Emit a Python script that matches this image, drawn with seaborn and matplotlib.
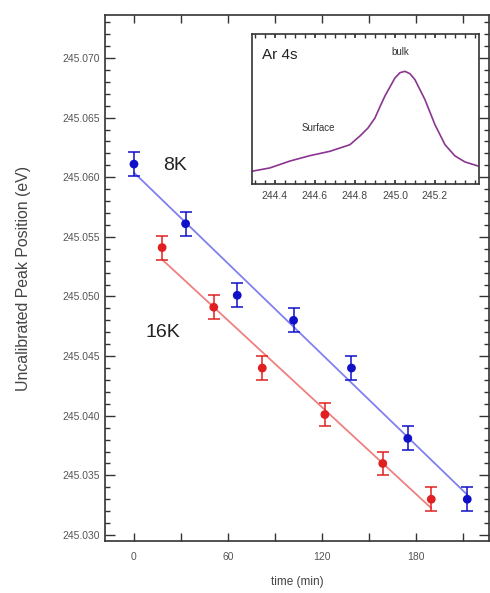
import numpy as np
import pandas as pd
import matplotlib
matplotlib.use("Agg")
import matplotlib.pyplot as plt
from matplotlib.ticker import MultipleLocator, FormatStrFormatter
import seaborn as sns

# ---- data ----
time_8k = [0, 33, 66, 102, 139, 175, 213]
peak_8k = [245.0611, 245.0561, 245.0501, 245.0480, 245.0440, 245.0381, 245.0330]
time_16k = [18, 51, 82, 122, 159, 190]
peak_16k = [245.0541, 245.0491, 245.0440, 245.0401, 245.0360, 245.0330]
err = 0.001

spec_energy = [244.285, 244.375, 244.475, 244.575, 244.675, 244.775, 244.825,
               244.865, 244.90, 244.925, 244.95, 245.00, 245.025, 245.05,
               245.075, 245.10, 245.15, 245.20, 245.25, 245.30, 245.35, 245.415]
spec_int = [0.085, 0.107, 0.153, 0.189, 0.218, 0.262, 0.320,
            0.373, 0.440, 0.515, 0.587, 0.707, 0.742, 0.751,
            0.735, 0.695, 0.562, 0.395, 0.262, 0.187, 0.147, 0.120]

sns.set_theme(style="ticks")
plt.rcParams['font.family'] = ['Liberation Sans', 'DejaVu Sans']

fig = plt.figure(figsize=(4.9, 5.93), dpi=100)
ax = fig.add_axes([0.2143, 0.0877, 0.784, 0.887])

blue = "#1010c8"
red = "#e02020"
df8 = pd.DataFrame({"t": time_8k, "p": peak_8k})
df16 = pd.DataFrame({"t": time_16k, "p": peak_16k})

sns.regplot(data=df8, x="t", y="p", scatter=False, ci=None, ax=ax,
            line_kws=dict(color="#8080f0", lw=1.3))
sns.regplot(data=df16, x="t", y="p", scatter=False, ci=None, ax=ax,
            line_kws=dict(color="#f08080", lw=1.3))

ax.errorbar(time_8k, peak_8k, yerr=err, fmt="none", ecolor=blue, elinewidth=1.1,
            capsize=4, capthick=1.1, zorder=3)
ax.errorbar(time_16k, peak_16k, yerr=err, fmt="none", ecolor=red, elinewidth=1.1,
            capsize=4, capthick=1.1, zorder=3)
sns.scatterplot(data=df8, x="t", y="p", ax=ax, color=blue, s=40, edgecolor="none", zorder=4)
sns.scatterplot(data=df16, x="t", y="p", ax=ax, color=red, s=40, edgecolor="none", zorder=4)

ax.set_xlim(-18.5, 227)
ax.set_ylim(245.0295, 245.0736)
ax.xaxis.set_major_locator(MultipleLocator(60))
ax.xaxis.set_minor_locator(MultipleLocator(30))
ax.yaxis.set_major_locator(MultipleLocator(0.005))
ax.yaxis.set_minor_locator(MultipleLocator(0.001))
ax.yaxis.set_major_formatter(FormatStrFormatter("%.3f"))
ax.tick_params(which="both", direction="in", top=True, right=True,
               colors="#333333", labelcolor="#555555", labelsize=7.5, width=1)
ax.tick_params(axis="y", which="major", length=7)
ax.tick_params(axis="y", which="minor", length=3.5)
ax.tick_params(axis="x", which="both", length=6)
ax.tick_params(axis="x", pad=8)
for s in ax.spines.values():
    s.set_color("#333333")
    s.set_linewidth(1.2)

ax.set_xlabel("time (min)", fontsize=8.5, color="#444444", labelpad=10)
ax.set_ylabel("Uncalibrated Peak Position (eV)", fontsize=11.4, color="#444444", labelpad=23)

ax.text(26, 245.0610, "8K", fontsize=14, color="#222222", ha="center", va="center")
ax.text(18.5, 245.0470, "16K", fontsize=14, color="#222222", ha="center", va="center")

# ---- inset ----
ins = fig.add_axes([0.514, 0.6897, 0.4636, 0.253])
ins.set_facecolor("white")
sns.lineplot(x=spec_energy, y=spec_int, ax=ins, color="#8a3590", lw=1.2)
ins.set_xlim(244.285, 245.42)
ins.set_ylim(0, 1)
ins.set_xticks([244.4, 244.6, 244.8, 245.0, 245.2])
ins.xaxis.set_major_formatter(FormatStrFormatter("%.1f"))
ins.xaxis.set_minor_locator(MultipleLocator(0.05))
ins.set_yticks([])
ins.tick_params(axis="x", which="both", direction="in", top=True, length=3,
                colors="#333333", labelcolor="#444444", labelsize=7.5, pad=5)
for s in ins.spines.values():
    s.set_color("#333333")
    s.set_linewidth(1.2)
ins.text(244.335, 0.86, "Ar 4s", fontsize=11, color="#222222", ha="left", va="center")
ins.text(245.025, 0.88, "bulk", fontsize=7, color="#333333", ha="center", va="center")
ins.text(244.615, 0.373, "Surface", fontsize=7, color="#333333", ha="center", va="center")

fig.savefig("out.png", dpi=100)
